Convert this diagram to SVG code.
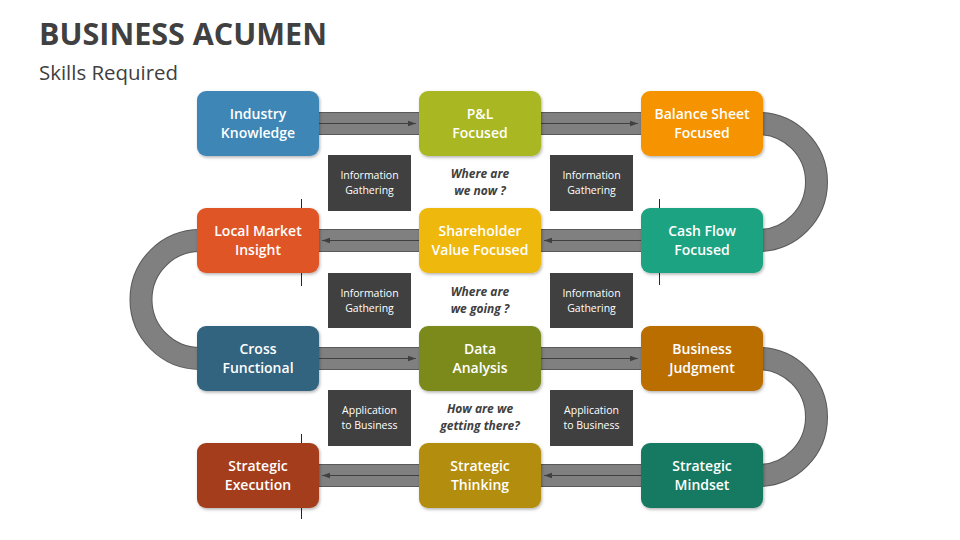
<svg xmlns="http://www.w3.org/2000/svg" width="960" height="540" viewBox="0 0 960 540">
  <defs>
    <filter id="sh" x="-10%" y="-10%" width="125%" height="130%">
      <feDropShadow dx="1" dy="1.5" stdDeviation="1.5" flood-color="#000" flood-opacity="0.3"/>
    </filter>
    <marker id="ah" viewBox="0 0 10 10" refX="10" refY="5" markerWidth="8" markerHeight="8" markerUnits="userSpaceOnUse" orient="auto">
      <path d="M0,1.5 L10,5 L0,8.5 Z" fill="#404040"/>
    </marker>
    <style>
      .title { font-family: "Open Sans", "Liberation Sans", sans-serif; font-weight: 700; font-size: 30px; fill: #404040; }
      .sub { font-family: "Open Sans", "Liberation Sans", sans-serif; font-size: 20px; fill: #404040; }
      .node rect { filter: url(#sh); }
      .node text { font-family: "Open Sans", "Liberation Sans", sans-serif; font-weight: 600; font-size: 14px; fill: #ffffff; text-anchor: middle; }
      .lbl rect { fill: #404040; }
      .lbl text { font-family: "Open Sans", "Liberation Sans", sans-serif; font-size: 10.5px; fill: #ffffff; text-anchor: middle; }
      .q { font-family: "Open Sans", "Liberation Sans", sans-serif; font-weight: 700; font-style: italic; font-size: 12px; fill: #404040; text-anchor: middle; }
      .band-o { fill: none; stroke: #595959; stroke-width: 23; }
      .band-i { fill: none; stroke: #808080; stroke-width: 21; }
      .arr { stroke: #404040; stroke-width: 1; fill: none; marker-end: url(#ah); }
      .tick { stroke: #262626; stroke-width: 1; }
    </style>
  </defs>
  <rect width="960" height="540" fill="#ffffff"/>

  <text class="title" x="39" y="45" textLength="288" lengthAdjust="spacingAndGlyphs">BUSINESS ACUMEN</text>
  <text class="sub" x="39" y="80" textLength="139" lengthAdjust="spacingAndGlyphs">Skills Required</text>

  <g id="decor">
    <line class="tick" x1="301.5" y1="199" x2="301.5" y2="286"/>
    <line class="tick" x1="301.5" y1="434" x2="301.5" y2="519"/>
    <line class="tick" x1="659.5" y1="199" x2="659.5" y2="285"/>
  </g>

  <g id="connectors">
    <path class="band-o" d="M258,123.5 H758 A58.5,58.5 0 0 1 758,240.5 H200 A59,59 0 0 0 200,358.5 H758 A58.5,58.5 0 0 1 758,475.5 H258"/>
    <path class="band-i" d="M258,123.5 H758 A58.5,58.5 0 0 1 758,240.5 H200 A59,59 0 0 0 200,358.5 H758 A58.5,58.5 0 0 1 758,475.5 H258"/>
    <line class="arr" x1="319" y1="123.5" x2="416" y2="123.5"/>
    <line class="arr" x1="541" y1="123.5" x2="638" y2="123.5"/>
    <line class="arr" x1="419" y1="240.5" x2="322" y2="240.5"/>
    <line class="arr" x1="641" y1="240.5" x2="544" y2="240.5"/>
    <line class="arr" x1="319" y1="358.5" x2="416" y2="358.5"/>
    <line class="arr" x1="541" y1="358.5" x2="638" y2="358.5"/>
    <line class="arr" x1="419" y1="475.5" x2="322" y2="475.5"/>
    <line class="arr" x1="641" y1="475.5" x2="544" y2="475.5"/>
  </g>

  <g id="labels">
    <g class="lbl" id="lbl-1"><rect x="328" y="155" width="83" height="56"/><text x="369.5" y="179">Information</text><text x="369.5" y="194">Gathering</text></g>
    <g class="lbl" id="lbl-2"><rect x="550" y="155" width="83" height="56"/><text x="591.5" y="179">Information</text><text x="591.5" y="194">Gathering</text></g>
    <g class="lbl" id="lbl-3"><rect x="328" y="273" width="83" height="55"/><text x="369.5" y="297">Information</text><text x="369.5" y="312">Gathering</text></g>
    <g class="lbl" id="lbl-4"><rect x="550" y="273" width="83" height="55"/><text x="591.5" y="297">Information</text><text x="591.5" y="312">Gathering</text></g>
    <g class="lbl" id="lbl-5"><rect x="328" y="390" width="83" height="56"/><text x="369.5" y="414">Application</text><text x="369.5" y="429">to Business</text></g>
    <g class="lbl" id="lbl-6"><rect x="550" y="390" width="83" height="56"/><text x="591.5" y="414">Application</text><text x="591.5" y="429">to Business</text></g>
    <text class="q" x="480" y="178">Where are</text><text class="q" x="480" y="195">we now ?</text>
    <text class="q" x="480" y="296">Where are</text><text class="q" x="480" y="313">we going ?</text>
    <text class="q" x="480" y="413">How are we</text><text class="q" x="480" y="430">getting there?</text>
  </g>

  <g class="node" id="industry-knowledge"><rect x="197" y="91" width="122" height="65" rx="9" fill="#3E86B5"/><text x="258" y="119">Industry</text><text x="258" y="138">Knowledge</text></g>
  <g class="node" id="pl-focused"><rect x="419" y="91" width="122" height="65" rx="9" fill="#A9B724"/><text x="480" y="119">P&amp;L</text><text x="480" y="138">Focused</text></g>
  <g class="node" id="balance-sheet-focused"><rect x="641" y="91" width="122" height="65" rx="9" fill="#F59300"/><text x="702" y="119">Balance Sheet</text><text x="702" y="138">Focused</text></g>

  <g class="node" id="local-market-insight"><rect x="197" y="208" width="122" height="65" rx="9" fill="#E05526"/><text x="258" y="236">Local Market</text><text x="258" y="255">Insight</text></g>
  <g class="node" id="shareholder-value-focused"><rect x="419" y="208" width="122" height="65" rx="9" fill="#EEB80E"/><text x="480" y="236">Shareholder</text><text x="480" y="255">Value Focused</text></g>
  <g class="node" id="cash-flow-focused"><rect x="641" y="208" width="122" height="65" rx="9" fill="#1FA382"/><text x="702" y="236">Cash Flow</text><text x="702" y="255">Focused</text></g>

  <g class="node" id="cross-functional"><rect x="197" y="326" width="122" height="65" rx="9" fill="#30647F"/><text x="258" y="354">Cross</text><text x="258" y="373">Functional</text></g>
  <g class="node" id="data-analysis"><rect x="419" y="326" width="122" height="65" rx="9" fill="#7B8A1F"/><text x="480" y="354">Data</text><text x="480" y="373">Analysis</text></g>
  <g class="node" id="business-judgment"><rect x="641" y="326" width="122" height="65" rx="9" fill="#BA6E02"/><text x="702" y="354">Business</text><text x="702" y="373">Judgment</text></g>

  <g class="node" id="strategic-execution"><rect x="197" y="443" width="122" height="65" rx="9" fill="#A43E1C"/><text x="258" y="471">Strategic</text><text x="258" y="490">Execution</text></g>
  <g class="node" id="strategic-thinking"><rect x="419" y="443" width="122" height="65" rx="9" fill="#B38D0A"/><text x="480" y="471">Strategic</text><text x="480" y="490">Thinking</text></g>
  <g class="node" id="strategic-mindset"><rect x="641" y="443" width="122" height="65" rx="9" fill="#177A62"/><text x="702" y="471">Strategic</text><text x="702" y="490">Mindset</text></g>
</svg>
